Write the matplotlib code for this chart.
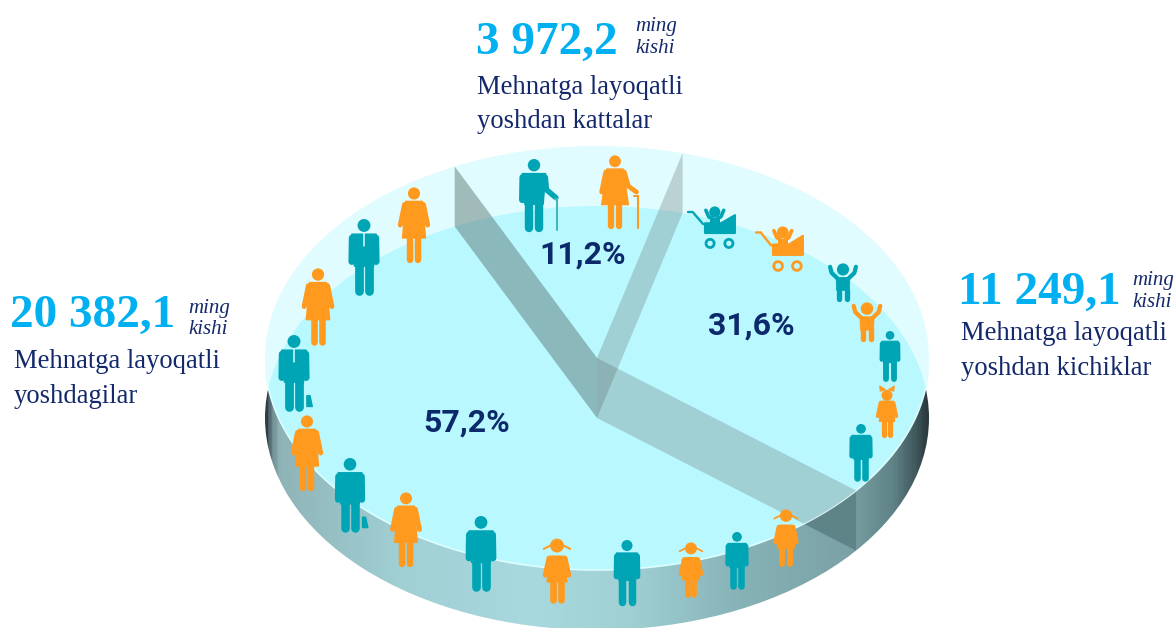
import numpy as np
import matplotlib
matplotlib.use("Agg")
import matplotlib.pyplot as plt
from matplotlib.patches import Ellipse, Polygon, Circle
from matplotlib.colors import LinearSegmentedColormap

# ---- data ----
groups = ["Mehnatga layoqatli\nyoshdagilar", "Mehnatga layoqatli\nyoshdan kattalar", "Mehnatga layoqatli\nyoshdan kichiklar"]
people = ["20 382,1", "3 972,2", "11 249,1"]
shares = [57.2, 11.2, 31.6]
share_labels = ["57,2%", "11,2%", "31,6%"]
unit = "ming\nkishi"

TEAL, ORANGE, NAVY, SKY = "#00A5B5", "#FF9A1F", "#14296B", "#00B0F0"
W, H = 1176, 628
cx, cy, rx, ry, depth = 597, 358, 332, 212, 60

fig = plt.figure(figsize=(W / 100, H / 100), dpi=100)
ax = fig.add_axes([0, 0, 1, 1])
ax.axis("off")

# ---- wedge boundaries derived from shares (clockwise from the lower right rim) ----
start = -38.7
b_low_left = start - shares[0] * 3.6          # 57.2 % runs clockwise to upper left
b_up_right = b_low_left - shares[1] * 3.6     # 11.2 % continues clockwise


def rim(deg):
    a = np.radians(deg)
    return cx + rx * np.cos(a), cy - ry * np.sin(a)


def quad(deg):
    x, y = rim(deg)
    return [(cx, cy), (x, y), (x, y + depth), (cx, cy + depth)]


# ---- disk ----
wall_clip = Ellipse((cx, cy + depth), 2 * rx, 2 * ry, transform=ax.transData)
top_clip = Ellipse((cx, cy), 2 * rx, 2 * ry, transform=ax.transData)
cmap = LinearSegmentedColormap.from_list("wall", [
    (0.0, "#2F3E42"), (0.006, "#6A868A"), (0.02, "#8FB4B8"), (0.2, "#A0CFD4"), (0.4, "#A8D9DE"),
    (0.55, "#A0D0D4"), (0.72, "#86B2B6"), (0.88, "#7BA2A6"), (0.95, "#5F8286"), (0.985, "#3E565A"), (1.0, "#2C3A3E")])
img = ax.imshow(np.linspace(0, 1, 400)[None, :], cmap=cmap, aspect="auto",
                extent=(cx - rx, cx + rx, cy + depth + ry, cy - ry), zorder=1)
img.set_clip_path(wall_clip)
front = Polygon(quad(start), closed=True, fc="#5F8488", ec="none", zorder=2)
ax.add_patch(front)
front.set_clip_path(wall_clip)
ax.add_patch(Ellipse((cx, cy), 2 * rx, 2 * ry, fc="#E0FCFF", ec="none", zorder=3))
floor = Ellipse((cx, cy + depth), 2 * rx, 2 * ry, fc="#BAF8FF", ec="none", zorder=4)
ax.add_patch(floor)
floor.set_clip_path(top_clip)

t = np.radians(np.linspace(184, 356, 200))
ax.plot(cx + rx * np.cos(t), cy - ry * np.sin(t), color="#DDFDFF", lw=1.2, zorder=5)

for deg, col, al in [(b_up_right, "#647171", 0.30), (start, "#647171", 0.30), (b_low_left, "#4A625F", 0.42)]:
    p = Polygon(quad(deg), closed=True, fc=col, ec="none", alpha=al, zorder=6)
    ax.add_patch(p)
    p.set_clip_path(top_clip)


# ---- pictograms ----
def line(x, top, h, pts, w, c, z=8):
    pts = np.array(pts)
    ax.plot(x + pts[:, 0] * h, top + pts[:, 1] * h, color=c, lw=w * h * 0.72,
            solid_capstyle="round", solid_joinstyle="round", zorder=z)


def poly(x, top, h, pts, c, z=8):
    pts = np.array(pts)
    ax.add_patch(Polygon(np.c_[x + pts[:, 0] * h, top + pts[:, 1] * h], closed=True, fc=c, ec=c,
                         lw=0.02 * h * 0.72, joinstyle="round", zorder=z))


def head(x, top, h, v, r, c):
    ax.add_patch(Circle((x, top + v * h), r * h, fc=c, ec="none", zorder=8))


def man(x, top, bot, suit=False, case=False, cane=False):
    h = bot - top
    c = TEAL
    head(x, top, h, 0.085, 0.085, c)
    poly(x, top, h, [(-.16, .2), (.16, .2), (.125, .62), (-.125, .62)], c)
    line(x, top, h, [(-.155, .25), (-.16, .56)], .09, c)
    if cane:
        line(x, top, h, [(.155, .25), (.17, .42), (.3, .53)], .075, c)
        line(x, top, h, [(.29, .55), (.32, .55), (.32, .97)], .028, "#3FB8C4")
    else:
        line(x, top, h, [(.155, .25), (.16, .56)], .09, c)
    line(x, top, h, [(-.07, .6), (-.07, .95)], .115, c)
    line(x, top, h, [(.07, .6), (.07, .95)], .115, c)
    if suit:
        line(x, top, h, [(0, .19), (0, .35)], .02, "#D8FBFF", z=9)
    if case:
        poly(x, top, h, [(.17, .8), (.21, .8), (.24, .94), (.17, .94)], c)


def woman(x, top, bot, cane=False, wide=.15):
    h = bot - top
    c = ORANGE
    head(x, top, h, 0.085, 0.08, c)
    poly(x, top, h, [(-.11, .19), (.11, .19), (wide, .67), (-wide, .67)], c)
    line(x, top, h, [(-.125, .23), (-.18, .5)], .065, c)
    if cane:
        line(x, top, h, [(.125, .23), (.18, .42), (.29, .5)], .065, c)
        line(x, top, h, [(.26, .56), (.31, .56), (.31, .98)], .028, c)
    else:
        line(x, top, h, [(.125, .23), (.18, .5)], .065, c)
    line(x, top, h, [(-.055, .66), (-.055, .96)], .085, c)
    line(x, top, h, [(.055, .66), (.055, .96)], .085, c)


def girl(x, top, bot, ears=False):
    h = bot - top
    c = ORANGE
    head(x, top, h, 0.18 if ears else 0.13, 0.105, c)
    if ears:
        poly(x, top, h, [(-.14, 0), (-.03, .07), (-.13, .1)], c)
        poly(x, top, h, [(.14, 0), (.03, .07), (.13, .1)], c)
    else:
        line(x, top, h, [(-.1, .13), (-.2, .18)], .03, c)
        line(x, top, h, [(.1, .13), (.2, .18)], .03, c)
    poly(x, top, h, [(-.11, .29), (.11, .29), (.15, .68), (-.15, .68)], c)
    line(x, top, h, [(-.125, .32), (-.18, .58)], .07, c)
    line(x, top, h, [(.125, .32), (.18, .58)], .07, c)
    line(x, top, h, [(-.06, .66), (-.06, .95)], .1, c)
    line(x, top, h, [(.06, .66), (.06, .95)], .1, c)


def cheer(x, top, bot, c):
    h = bot - top
    head(x, top, h, .17, .16, c)
    line(x, top, h, [(-.34, .1), (-.3, .26), (-.13, .42)], .11, c)
    line(x, top, h, [(.34, .1), (.3, .26), (.13, .42)], .11, c)
    poly(x, top, h, [(-.18, .38), (.18, .38), (.17, .72), (-.17, .72)], c)
    line(x, top, h, [(-.1, .7), (-.1, .94)], .14, c)
    line(x, top, h, [(.1, .7), (.1, .94)], .14, c)


def stroller(x0, top, x1, bot, c):
    w, h = x1 - x0, bot - top
    X = lambda f: x0 + f * w
    Y = lambda f: top + f * h
    ax.plot([X(0), X(.1), X(.32)], [Y(.14), Y(.14), Y(.42)], color=c, lw=1.7, solid_capstyle="round", zorder=8)
    ax.add_patch(Polygon([(X(.36), Y(.4)), (X(.7), Y(.4)), (X(1), Y(.21)), (X(1), Y(.63)), (X(.36), Y(.63))],
                         closed=True, fc=c, ec=c, lw=1.4, joinstyle="round", zorder=8))
    ax.add_patch(Circle((X(.57), Y(.14)), .13 * h, fc=c, ec="none", zorder=8))
    ax.plot([X(.38), X(.44), X(.57), X(.7), X(.76)], [Y(.1), Y(.25), Y(.33), Y(.25), Y(.1)],
            color=c, lw=2.6, solid_capstyle="round", zorder=8)
    ax.add_patch(Polygon([(X(.46), Y(.28)), (X(.68), Y(.28)), (X(.68), Y(.45)), (X(.46), Y(.45))],
                         closed=True, fc=c, ec="none", zorder=8))
    for f in (.47, .87):
        ax.add_patch(Circle((X(f), Y(.87)), .095 * h, fc="none", ec=c, lw=2, zorder=8))


man(534, 159, 232, cane=True)
woman(615, 155, 229, cane=True, wide=.18)
stroller(688, 206, 735, 249, TEAL)
stroller(756, 226, 803, 272, ORANGE)
cheer(843, 263, 301, TEAL)
cheer(867, 302, 341, ORANGE)
man(890, 331, 382)
girl(887, 386, 438, ears=True)
man(861, 424, 481)
girl(786, 508, 567)
man(737, 532, 589)
girl(691, 541, 598)
man(627, 540, 605)
girl(557, 537, 603)
man(481, 516, 591)
woman(406, 492, 567)
man(350, 458, 532, case=True)
woman(307, 415, 491)
man(294, 335, 411, suit=True, case=True)
woman(318, 268, 345)
man(364, 219, 295, suit=True)
woman(414, 187, 263)

# ---- percentages ----
for s, xy in zip(share_labels, [(467, 423), (583, 255), (751.5, 326)]):
    ax.text(*xy, s, family="Roboto", weight="bold", fontsize=23, color="#0C2A6B", ha="center", va="center", zorder=10)

# ---- callouts ----
serif = "Liberation Serif"
callouts = [
    (10, 327, 188, 313, 334, 14, 368, 403),
    (476, 54, 635, 31, 53, 477, 94, 128),
    (958, 304, 1132, 285, 307, 961, 340, 375),
]
for i, (nx, ny, ux, uy1, uy2, tx, ty1, ty2) in enumerate(callouts):
    ax.text(nx, ny, people[i], family=serif, weight="bold", fontsize=34, color=SKY, va="baseline")
    u1, u2 = unit.split("\n")
    ax.text(ux, uy1, u1, family=serif, style="italic", fontsize=15, color=NAVY, va="baseline")
    ax.text(ux, uy2, u2, family=serif, style="italic", fontsize=15, color=NAVY, va="baseline")
    t1, t2 = groups[i].split("\n")
    ax.text(tx, ty1, t1, family=serif, fontsize=19.2, color=NAVY, va="baseline")
    ax.text(tx, ty2, t2, family=serif, fontsize=19.2, color=NAVY, va="baseline")

ax.set_xlim(0, W)
ax.set_ylim(H, 0)
fig.savefig("out.png", dpi=100, facecolor="white")
